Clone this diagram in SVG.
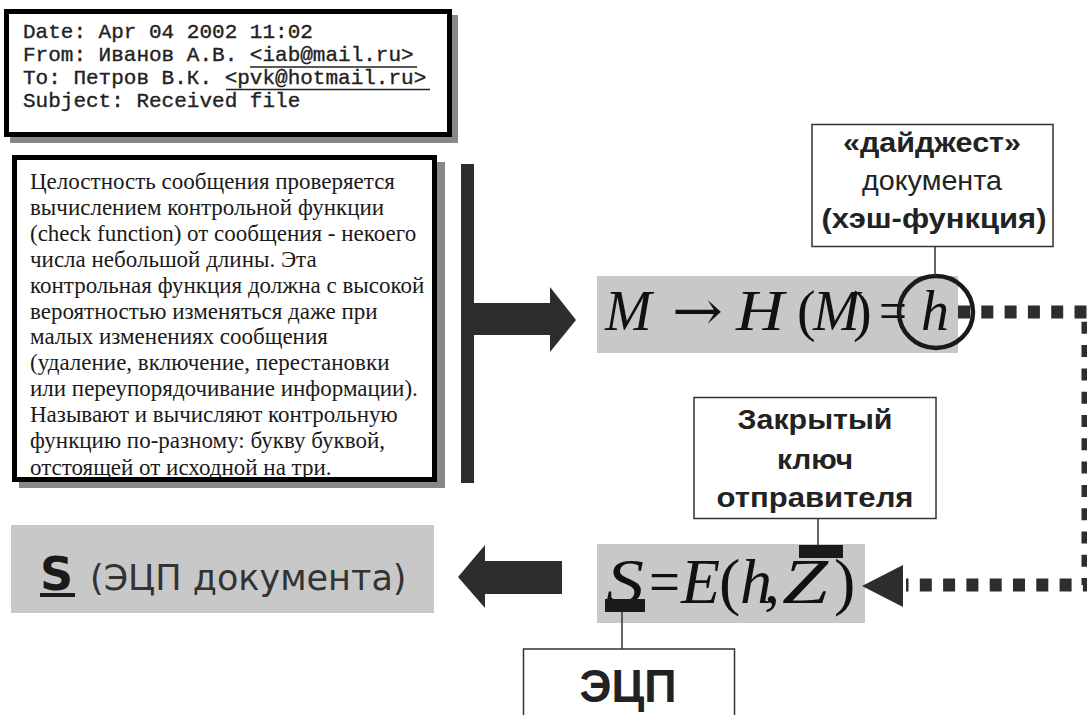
<svg xmlns="http://www.w3.org/2000/svg" width="1087" height="715" viewBox="0 0 1087 715">
<defs>
<style>
.mono{font-family:"Liberation Mono","DejaVu Sans Mono",monospace;font-size:21px;fill:#222;stroke:#222;stroke-width:0.35}
.para{font-family:"Liberation Serif","DejaVu Serif",serif;font-size:23px;fill:#1a1a1a}
.lab{font-family:"Liberation Sans",Arial,sans-serif;fill:#222;text-anchor:middle}
.l1{font-size:27px}
.l2{font-size:28px}
.l3{font-size:46px}
.b{font-weight:bold}
.math{font-family:"Liberation Serif","DejaVu Serif",serif;fill:#111}
.f1{font-size:56px}
.f2{font-size:64px}
.it{font-style:italic}
.gray{fill:#c8c8c8}
.box{fill:#fff;stroke:#333;stroke-width:1.5}
.dark{fill:#2d2d2d}
.lead{stroke:#333;stroke-width:1.5}
</style>
<clipPath id="paraclip"><rect x="17" y="160" width="415" height="317"/></clipPath>
</defs>

<g id="email">
<rect x="10" y="15" width="448" height="128" fill="#888"/>
<rect x="6.5" y="11.5" width="443" height="123" fill="#fff" stroke="#000" stroke-width="5"/>
<text class="mono" x="23" y="38">Date: Apr 04 2002 11:02</text>
<text class="mono" x="23" y="61">From: Иванов А.В. &lt;iab@mail.ru&gt;</text>
<text class="mono" x="23" y="84">To: Петров В.К. &lt;pvk@hotmail.ru&gt;</text>
<text class="mono" x="23" y="107">Subject: Received file</text>
<line x1="250" y1="67" x2="417" y2="67" stroke="#222" stroke-width="1.5"/>
<line x1="226" y1="89.5" x2="430" y2="89.5" stroke="#222" stroke-width="1.5"/>
</g>

<g id="description">
<rect x="19" y="162" width="426" height="326" fill="#888"/>
<rect x="14.5" y="157.5" width="420" height="322" fill="#fff"/>
<g clip-path="url(#paraclip)">
<text class="para" x="30" y="189">Целостность сообщения проверяется</text>
<text class="para" x="30" y="214.9">вычислением контрольной функции</text>
<text class="para" x="30" y="240.8">(check function) от сообщения - некоего</text>
<text class="para" x="30" y="266.7">числа небольшой длины. Эта</text>
<text class="para" x="30" y="292.6">контрольная функция должна с высокой</text>
<text class="para" x="30" y="318.5">вероятностью изменяться даже при</text>
<text class="para" x="30" y="344.4">малых изменениях сообщения</text>
<text class="para" x="30" y="370.3">(удаление, включение, перестановки</text>
<text class="para" x="30" y="396.2">или переупорядочивание информации).</text>
<text class="para" x="30" y="422.1">Называют и вычисляют контрольную</text>
<text class="para" x="30" y="448">функцию по-разному: букву буквой,</text>
<text class="para" x="30" y="474.5">отстоящей от исходной на три.</text>
</g>
<rect x="14.5" y="157.5" width="420" height="322" fill="none" stroke="#000" stroke-width="5"/>
</g>

<g id="hash-formula">
<rect class="gray" x="597" y="276" width="361" height="77"/>
<text class="math f1 it" x="605" y="330">M</text>
<text class="math f1" x="672" y="330" textLength="51" lengthAdjust="spacingAndGlyphs" style="font-family:'DejaVu Serif',serif">→</text>
<text class="math f1 it" x="736" y="330" textLength="48" lengthAdjust="spacingAndGlyphs">H</text>
<text class="math f1" x="797" y="330">(</text>
<text class="math f1 it" x="813" y="330">M</text>
<text class="math f1" x="853" y="330">)</text>
<text class="math f1" x="879" y="330" textLength="28" lengthAdjust="spacingAndGlyphs">=</text>
<text class="math f1 it" x="921" y="330">h</text>
<ellipse cx="936" cy="312" rx="37" ry="36" fill="none" stroke="#1a1a1a" stroke-width="4.5"/>
</g>

<g id="digest-label">
<rect class="box" x="812" y="124.5" width="241" height="122"/>
<text class="lab l1 b" x="932" y="152" textLength="178" lengthAdjust="spacingAndGlyphs">«дайджест»</text>
<text class="lab l1" x="932" y="190" textLength="140" lengthAdjust="spacingAndGlyphs">документа</text>
<text class="lab l1 b" x="934" y="228" textLength="225" lengthAdjust="spacingAndGlyphs">(хэш-функция)</text>
</g>

<g id="sign-formula">
<rect class="gray" x="597" y="544" width="268" height="79"/>
<text class="math f2 it" x="606" y="603" textLength="38" lengthAdjust="spacingAndGlyphs">S</text>
<text class="math f2" x="649" y="603" textLength="31" lengthAdjust="spacingAndGlyphs">=</text>
<text class="math f2 it" x="681" y="603">E</text>
<text class="math f2" x="719" y="603">(</text>
<text class="math f2 it" x="740" y="603">h</text>
<text class="math f2" x="764" y="603">,</text>
<text class="math f2 it" x="782" y="603" textLength="46" lengthAdjust="spacingAndGlyphs">Z</text>
<text class="math f2" x="834" y="603">)</text>
<rect x="799" y="545" width="44" height="13" fill="#1a1a1a"/>
<rect x="605" y="599" width="40" height="13" fill="#1a1a1a"/>
</g>

<g id="key-label">
<rect class="box" x="694" y="397.5" width="242" height="121"/>
<text class="lab l2 b" x="815" y="429" textLength="155" lengthAdjust="spacingAndGlyphs">Закрытый</text>
<text class="lab l2 b" x="815" y="469" textLength="76" lengthAdjust="spacingAndGlyphs">ключ</text>
<text class="lab l2 b" x="815" y="507" textLength="197" lengthAdjust="spacingAndGlyphs">отправителя</text>
</g>

<g id="ecp-label">
<rect class="box" x="523.5" y="649" width="211" height="80"/>
<text class="lab l3 b" x="628" y="702" textLength="97" lengthAdjust="spacingAndGlyphs">ЭЦП</text>
</g>

<g id="result">
<rect class="gray" x="11" y="525" width="423" height="88"/>
<text x="40" y="590" font-family="'DejaVu Sans',Verdana,sans-serif" font-size="46" font-weight="bold" fill="#1a1a1a">S</text>
<rect x="40" y="593" width="35" height="4" fill="#1a1a1a"/>
<text x="90" y="590" font-family="'DejaVu Sans',Verdana,sans-serif" font-size="35" fill="#333">(ЭЦП документа)</text>
</g>

<g id="connectors">
<rect class="dark" x="461" y="164" width="13" height="319"/>
<polygon class="dark" points="474,303 550,303 550,287 576,320 550,352 550,335 474,335"/>
<polygon class="dark" points="562,561 485,561 485,545 458,577 485,608 485,594 562,594"/>
<path d="M958 312 H1088 V585 H906" fill="none" stroke="#2d2d2d" stroke-width="13" stroke-dasharray="12 11.3"/>
<polygon class="dark" points="862,586 903,565 903,607"/>
<line class="lead" x1="935" y1="247" x2="935" y2="276"/>
<line class="lead" x1="818" y1="518" x2="818" y2="545"/>
<line class="lead" x1="622" y1="612" x2="622" y2="649"/>
</g>
</svg>
